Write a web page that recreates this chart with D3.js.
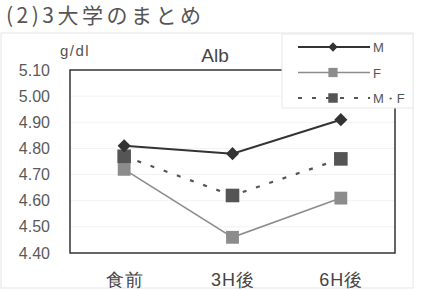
<!DOCTYPE html>
<html>
<head>
<meta charset="utf-8">
<script src="https://cdn.jsdelivr.net/npm/d3@7"></script>
<style>
  body { margin: 0; background: #fff; }
  svg { font-family: "Noto Sans CJK JP", "Noto Sans", sans-serif; }
</style>
</head>
<body>
<div id="chart"></div>
<script>
// データ
const categories = ["食前", "3H後", "6H後"];
const valuesM = [4.81, 4.78, 4.91];
const valuesF = [4.72, 4.46, 4.61];
const valuesMF = [4.77, 4.62, 4.76];
const yTicks = [4.40, 4.50, 4.60, 4.70, 4.80, 4.90, 5.00, 5.10];

const width = 427;
const height = 290;
const plotLeft = 70, plotRight = 395, plotTop = 70, plotBottom = 253;

const svg = d3.select("#chart").append("svg")
  .attr("width", width)
  .attr("height", height);

// タイトル
svg.append("text")
  .attr("x", 6).attr("y", 23)
  .attr("font-size", 21).attr("fill", "#555")
  .attr("letter-spacing", 3.5)
  .text("(2)3大学のまとめ");

// 外枠（うすい線）
svg.append("rect")
  .attr("x", 1).attr("y", 33).attr("width", 412).attr("height", 255)
  .attr("fill", "none").attr("stroke", "#e6e6e6");

const xScale = d3.scalePoint()
  .domain(categories)
  .range([plotLeft, plotRight])
  .padding(0.5);

const yScale = d3.scaleLinear()
  .domain([4.40, 5.10])
  .range([plotBottom, plotTop]);

// 目盛り線
svg.append("g")
  .selectAll("line")
  .data(yTicks.slice(1, -1))
  .enter()
  .append("line")
  .attr("x1", plotLeft).attr("x2", plotRight)
  .attr("y1", d => yScale(d)).attr("y2", d => yScale(d))
  .attr("stroke", "#f2f2f2");

// Y軸
const axisY = d3.axisLeft(yScale).tickValues(yTicks).tickFormat(d3.format(".2f")).tickSize(0).tickPadding(20);
const gy = svg.append("g")
  .attr("transform", "translate(" + plotLeft + ",0)")
  .call(axisY);
gy.select(".domain").remove();
gy.selectAll("text").attr("font-size", 16).attr("fill", "#5a5a5a")
  .attr("font-family", "'Liberation Sans', Arial, sans-serif");

// X軸ラベル
const axisX = d3.axisBottom(xScale).tickSize(0).tickPadding(20);
const gx = svg.append("g")
  .attr("transform", "translate(0," + plotBottom + ")")
  .call(axisX);
gx.select(".domain").remove();
gx.selectAll("text").attr("font-size", 18).attr("fill", "#444").attr("letter-spacing", 1);

// 枠
svg.append("path")
  .attr("d", "M282," + plotTop + "H" + plotLeft + "V" + plotBottom + "H" + plotRight + "V108")
  .attr("fill", "none").attr("stroke", "#333").attr("stroke-width", 1.5);

svg.append("text")
  .attr("x", 60).attr("y", 56)
  .attr("font-size", 15).attr("fill", "#555")
  .attr("letter-spacing", 1.5)
  .attr("font-family", "'Liberation Sans', Arial, sans-serif")
  .text("g/dl");

svg.append("text")
  .attr("x", 215).attr("y", 62)
  .attr("text-anchor", "middle")
  .attr("font-size", 19).attr("fill", "#444")
  .attr("font-family", "'Liberation Sans', Arial, sans-serif")
  .text("Alb");

const series = [
  { name: "M", values: valuesM, color: "#333", lineColor: "#333", width: 2, dash: null, shape: d3.symbolDiamond2, size: 110, legendSize: 55 },
  { name: "F", values: valuesF, color: "#8c8c8c", lineColor: "#8c8c8c", width: 1.6, dash: null, shape: d3.symbolSquare, size: 165, legendSize: 85 },
  { name: "M・F", values: valuesMF, color: "#555", lineColor: "#555", width: 2.2, dash: "4,10", shape: d3.symbolSquare, size: 185, legendSize: 90 }
];

const line = d3.line()
  .x((d, i) => xScale(categories[i]))
  .y(d => yScale(d));

// 線
series.forEach(function (s) {
  svg.append("path")
    .datum(s.values)
    .attr("d", line)
    .attr("fill", "none")
    .attr("stroke", s.lineColor)
    .attr("stroke-width", s.width)
    .attr("stroke-dasharray", s.dash);
});

// マーカー（Fを先に、Mを最後に）
[series[1], series[2], series[0]].forEach(function (s) {
  svg.append("g")
    .selectAll("path")
    .data(s.values)
    .enter()
    .append("path")
    .attr("transform", (d, i) => "translate(" + xScale(categories[i]) + "," + yScale(d) + ")")
    .attr("d", d3.symbol().type(s.shape).size(s.size))
    .attr("fill", s.color);
});

// 凡例
const legend = svg.append("g");
legend.append("rect")
  .attr("x", 282).attr("y", 34).attr("width", 131).attr("height", 74)
  .attr("fill", "#fff").attr("stroke", "#e8e8e8");

series.forEach(function (s, i) {
  const ly = 47 + i * 25.5;
  legend.append("line")
    .attr("x1", 298).attr("x2", 370)
    .attr("y1", ly).attr("y2", ly)
    .attr("stroke", s.lineColor)
    .attr("stroke-width", s.width)
    .attr("stroke-dasharray", s.dash);
  legend.append("path")
    .attr("transform", "translate(333," + ly + ")")
    .attr("d", d3.symbol().type(s.shape).size(s.legendSize))
    .attr("fill", s.color);
  legend.append("text")
    .attr("x", 373).attr("y", ly + 5)
    .attr("font-size", 13).attr("fill", "#555")
    .attr("font-family", "'Liberation Sans', Arial, sans-serif")
    .text(s.name);
});
</script>
</body>
</html>
